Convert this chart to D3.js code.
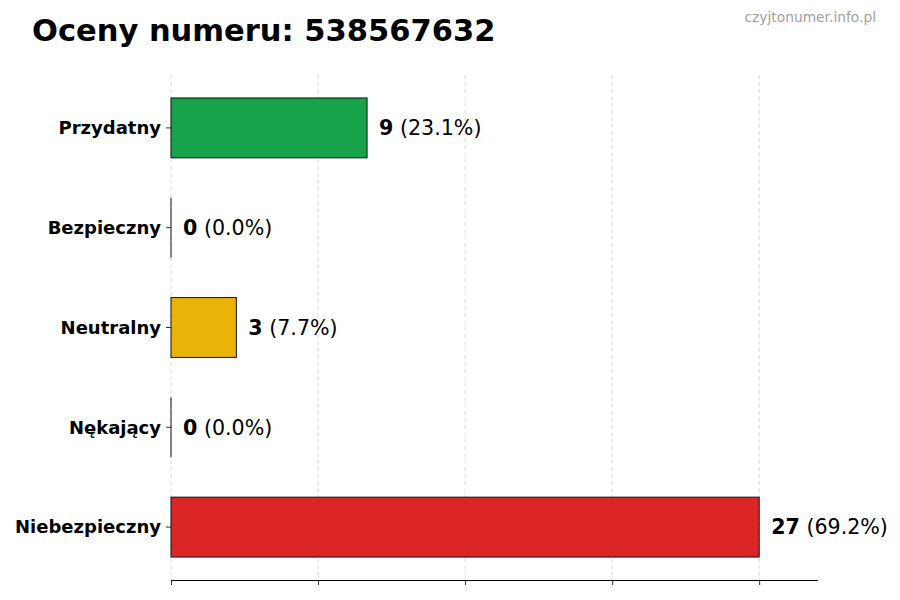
<!DOCTYPE html>
<html><head><meta charset="utf-8">
<script src="https://cdn.jsdelivr.net/npm/d3@7"></script>
<style>body{margin:0;background:#fff}svg{display:block}text{font-family:"DejaVu Sans",sans-serif}</style>
</head><body><svg id="c" width="900" height="600"></svg>
<script>
const categories = ["Przydatny","Bezpieczny","Neutralny","Nękający","Niebezpieczny"];
const values = [9,0,3,0,27];
const percents = ["23.1%","0.0%","7.7%","0.0%","69.2%"];
const colors = ["#16a34a","#3b82f6","#eab308","#f97316","#dc2626"];
const xTicks = [0,6.75,13.5,20.25,27];
const title = "Oceny numeru: 538567632";
const watermark = "czyjtonumer.info.pl";

const svg = d3.select("#c");
const L=171, R=818, T=75, B=580;
const maxV = d3.max(values);
const x = d3.scaleLinear().domain([0,maxV*1.1]).range([L,R]);
const y = d3.scaleLinear().domain([-0.53,4.53]).range([T,B]);
const bh = y(0.3)-y(-0.3);

// grid
svg.append("g").selectAll("line").data(xTicks).join("line")
  .attr("x1",d=>x(d)).attr("x2",d=>x(d)).attr("y1",T).attr("y2",B)
  .attr("stroke","#d0d0d0").attr("stroke-width",0.8).attr("stroke-dasharray","4,3");

// bars
svg.append("g").selectAll("rect").data(values).join("rect")
  .attr("x",x(0)).attr("y",(d,i)=>y(i)-bh/2)
  .attr("width",d=>x(d)-x(0)).attr("height",bh)
  .attr("fill",(d,i)=>colors[i]).attr("stroke","#111").attr("stroke-width",1);
// zero-width bar edges
svg.append("g").selectAll("line").data(values.map((v,i)=>({v,i})).filter(d=>d.v===0)).join("line")
  .attr("x1",x(0)).attr("x2",x(0)).attr("y1",d=>y(d.i)-bh/2).attr("y2",d=>y(d.i)+bh/2)
  .attr("stroke","#111").attr("stroke-width",1);

// value labels
const lab = svg.append("g").selectAll("text").data(values).join("text")
  .attr("x",d=>x(d)+12).attr("y",(d,i)=>y(i)).attr("dy","0.35em")
  .attr("font-size",20.6).attr("fill","#000");
lab.append("tspan").attr("font-weight","bold").text(d=>d);
lab.append("tspan").text((d,i)=>" ("+percents[i]+")");

// y axis (ticks + labels, no spine)
const ya = svg.append("g");
ya.selectAll("line").data(categories).join("line")
  .attr("x1",L-5).attr("x2",L).attr("y1",(d,i)=>y(i)).attr("y2",(d,i)=>y(i))
  .attr("stroke","#000").attr("stroke-width",0.8);
ya.selectAll("text").data(categories).join("text")
  .attr("x",L-10).attr("y",(d,i)=>y(i)).attr("dy","0.35em")
  .attr("text-anchor","end").attr("font-weight","bold").attr("font-size",18).text(d=>d);

// x axis
const xa = svg.append("g").attr("transform",`translate(0,${B})`)
  .call(d3.axisBottom(x).tickValues(xTicks).tickSize(5).tickFormat(""));
xa.select(".domain").attr("d",`M${L},0.5H${R}`).attr("stroke","#000").attr("stroke-width",1);
xa.selectAll(".tick line").attr("stroke","#000").attr("stroke-width",0.8);

svg.append("text").attr("x",32).attr("y",41).attr("font-size",30.5).attr("font-weight","bold").text(title);
svg.append("text").attr("x",876).attr("y",22).attr("text-anchor","end").attr("font-size",13.8).attr("fill","#a0a0a0").text(watermark);
</script></body></html>
